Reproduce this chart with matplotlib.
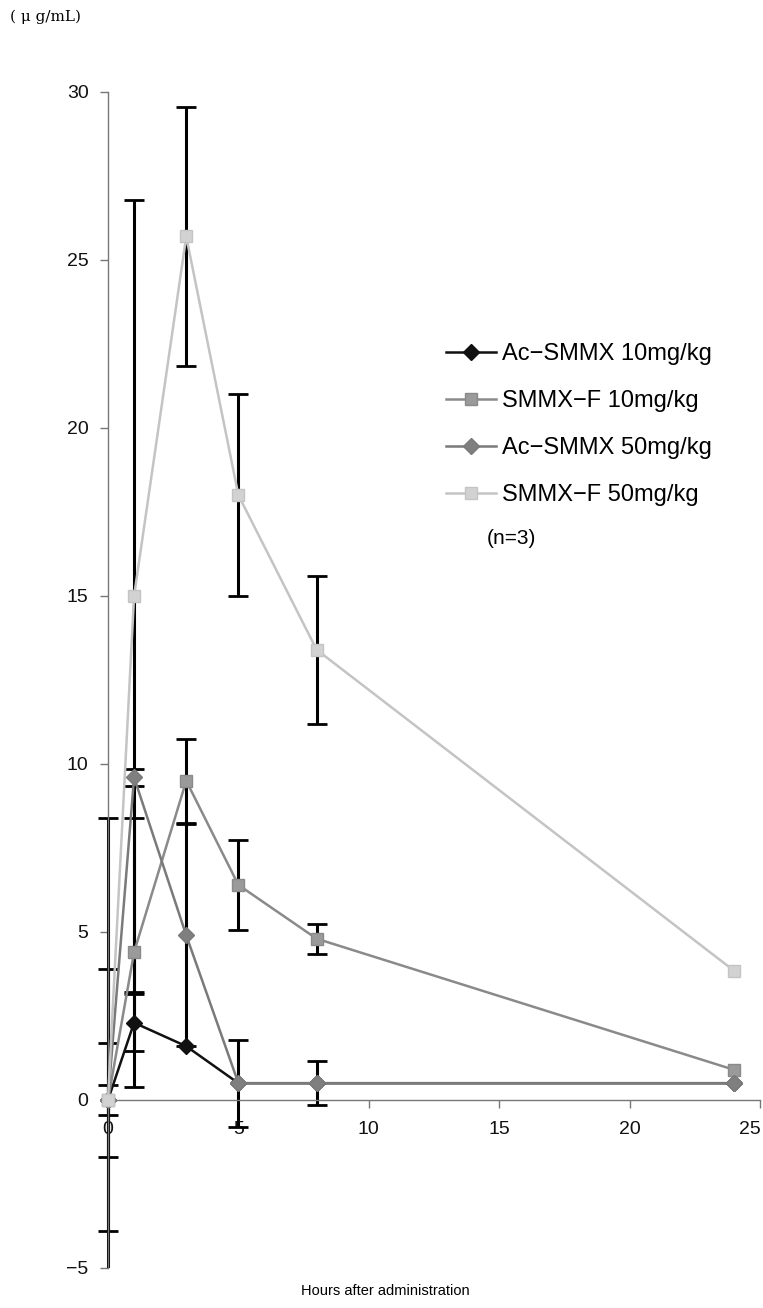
import matplotlib
matplotlib.use("Agg")
import matplotlib.pyplot as plt
from matplotlib.patches import Rectangle
import matplotlib.transforms as mtransforms
import numpy as np

plt.rcParams['font.family'] = ['Liberation Sans', 'DejaVu Sans']

# hours after administration
hours = [0, 1, 3, 5, 8, 24]

# mean concentrations (ug/mL) and SD
ac10 = [0, 2.3, 1.6, 0.5, 0.5, 0.5]
ac10_sd = [0.45, 0.85, 0, 0, 0, 0]
smmxf10 = [0, 4.4, 9.5, 6.4, 4.8, 0.9]
smmxf10_sd = [1.7, 4.0, 1.25, 1.35, 0.45, 0]
ac50 = [0, 9.6, 4.9, 0.5, 0.5, 0.5]
ac50_sd = [8.4, 0.25, 3.3, 1.3, 0.65, 0]
smmxf50 = [0, 15.0, 25.7, 18.0, 13.4, 3.85]
smmxf50_sd = [3.9, 11.8, 3.85, 3.0, 2.2, 0]

labels = ["Ac\u2212SMMX 10mg/kg", "SMMX\u2212F 10mg/kg",
          "Ac\u2212SMMX 50mg/kg", "SMMX\u2212F 50mg/kg"]

fig = plt.figure(figsize=(7.63, 13.08), dpi=100)
ax = fig.add_axes([108/763, 1 - 1268/1308, 652/763, (1268 - 92)/1308])

ax.set_xlim(0, 25)
ax.set_ylim(-5, 30)

# clip error bars to plot height, but let them spill past the y spine
clip = Rectangle((-0.05, 0), 1.1, 1.2, transform=ax.transAxes,
                 facecolor='none', edgecolor='none')

series = [
    (ac10, ac10_sd, '#111111', 'D', '#111111', 8),
    (smmxf10, smmxf10_sd, '#8a8a8a', 's', '#9a9a9a', 9),
    (ac50, ac50_sd, '#7a7a7a', 'D', '#7f7f7f', 8),
    (smmxf50, smmxf50_sd, '#c4c4c4', 's', '#d2d2d2', 9),
]

handles = []
for (vals, sd, lc, mk, mc, ms), lab in zip(series, labels):
    # only draw bars where there is a visible SD
    xs = [h for h, s in zip(hours, sd) if s > 0]
    ys = [v for v, s in zip(vals, sd) if s > 0]
    es = [s for s in sd if s > 0]
    eb = ax.errorbar(xs, ys, yerr=es, fmt='none', ecolor='black',
                     elinewidth=2.2, capsize=7, capthick=2, zorder=2)
    for art in eb.lines[1] + eb.lines[2]:
        art.set_clip_path(clip)
    ln, = ax.plot(hours, vals, color=lc, lw=1.8, marker=mk, ms=ms,
                  mfc=mc, mec=lc, mew=1, zorder=3, clip_on=False, label=lab)
    handles.append(ln)

# axes look
for s in ['top', 'right']:
    ax.spines[s].set_visible(False)
ax.spines['left'].set_color('#777777')
ax.spines['left'].set_linewidth(1)
ax.spines['bottom'].set_position(('data', 0))
ax.spines['bottom'].set_color('#777777')
ax.spines['bottom'].set_linewidth(1)

ax.set_yticks(np.arange(-5, 31, 5))
ax.set_xticks(np.arange(0, 26, 5))
ax.tick_params(axis='both', direction='out', length=6, width=1,
               color='#777777', labelsize=14, labelcolor='#111111')
ax.tick_params(axis='y', pad=8)
ax.tick_params(axis='x', pad=9)

# last x label would run off the edge, nudge it left
last = ax.get_xticklabels()[-1]
last.set_transform(last.get_transform() +
                   mtransforms.ScaledTranslation(-10/100, 0, fig.dpi_scale_trans))

leg = ax.legend(handles=handles, loc='upper left', frameon=False,
                bbox_to_anchor=(437/763, 1 - 334/1308),
                bbox_transform=fig.transFigure,
                fontsize=17, handlelength=2.1, handletextpad=0.25,
                labelspacing=1.05, borderaxespad=0)
fig.text(487/763, 1 - 538/1308, "(n=3)", fontsize=15, va='center')

fig.text(10/763, 1 - 17/1308, "( \u03bc g/mL)", fontsize=11, va='center',
         family=['DejaVu Serif'])
fig.text(385/763, 1 - 1291/1308, "Hours after administration",
         fontsize=10.5, ha='center', va='center')

fig.savefig("out.png", dpi=100)
